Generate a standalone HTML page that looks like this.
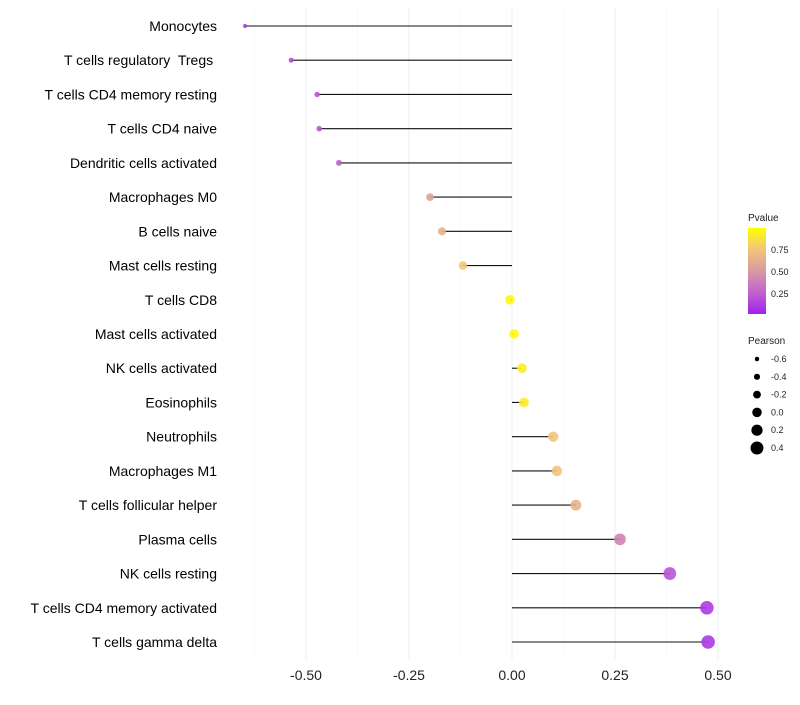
<!DOCTYPE html>
<html><head><meta charset="utf-8"><style>
body{margin:0;background:#fff;font-family:"Liberation Sans",sans-serif}
text{white-space:pre}
</style></head><body>
<svg id="chart" width="800" height="700" xmlns="http://www.w3.org/2000/svg" xml:space="preserve">
<defs><linearGradient id="pg" x1="0" y1="1" x2="0" y2="0">
<stop offset="0" stop-color="#a020f0"/><stop offset="0.25" stop-color="#c062d0"/><stop offset="0.5" stop-color="#d99aa0"/><stop offset="0.75" stop-color="#f2c47a"/><stop offset="1" stop-color="#ffff00"/></linearGradient></defs>
<g id="grid"></g><g id="marks"></g><g id="labels"></g>
<g font-size="9" fill="#222">
<text x="748" y="221" font-size="10">Pvalue</text>
<rect x="748" y="228" width="18" height="86" fill="url(#pg)"/>
<text x="771" y="253">0.75</text><text x="771" y="275">0.50</text><text x="771" y="297">0.25</text>
</g>
<g id="sizeleg" font-size="9" fill="#222">
<text x="748" y="344" font-size="10">Pearson</text>
</g>
</svg>
<script>
const categories=["Monocytes","T cells regulatory  Tregs ","T cells CD4 memory resting","T cells CD4 naive","Dendritic cells activated","Macrophages M0","B cells naive","Mast cells resting","T cells CD8","Mast cells activated","NK cells activated","Eosinophils","Neutrophils","Macrophages M1","T cells follicular helper","Plasma cells","NK cells resting","T cells CD4 memory activated","T cells gamma delta"];
const pearson=[-0.648,-0.536,-0.473,-0.468,-0.42,-0.199,-0.17,-0.119,-0.005,0.005,0.024,0.029,0.1,0.109,0.155,0.262,0.383,0.473,0.476];
const pvalue=[0.1,0.15,0.2,0.2,0.25,0.55,0.65,0.75,0.98,0.98,0.93,0.92,0.75,0.75,0.65,0.4,0.2,0.1,0.1];
const xTicks=[-0.5,-0.25,0,0.25,0.5];
const xTickLabels=["-0.50","-0.25","0.00","0.25","0.50"];
const sizeLegend=[-0.6,-0.4,-0.2,0.0,0.2,0.4];
const sizeLegendLabels=["-0.6","-0.4","-0.2","0.0","0.2","0.4"];
const NS="http://www.w3.org/2000/svg";
const X=v=>512+v*412;
const Y=i=>26+i*(642-26)/(categories.length-1);
const R=v=>2+(v+0.65)/1.13*4.8;
const stops=[[0,[160,32,240]],[0.25,[192,98,208]],[0.5,[217,154,160]],[0.75,[242,196,122]],[1,[255,255,0]]];
function col(p){for(let i=1;i<stops.length;i++){if(p<=stops[i][0]){const a=stops[i-1],b=stops[i],t=(p-a[0])/(b[0]-a[0]);return "rgb("+a[1].map((c,k)=>Math.round(c+(b[1][k]-c)*t)).join(",")+")";}}return "rgb(255,255,0)";}
function mk(t,a,p){const e=document.createElementNS(NS,t);for(const k in a)e.setAttribute(k,a[k]);p.appendChild(e);return e;}
const grid=document.getElementById('grid'),marks=document.getElementById('marks'),labels=document.getElementById('labels');
const minor=[-0.625,-0.375,-0.125,0.125,0.375];
minor.forEach(v=>{const l=mk('line',{x1:X(v),x2:X(v),y1:8,y2:660,stroke:'#f5f5f5','stroke-width':0.6},grid);

});
xTicks.forEach((v,i)=>{const l=mk('line',{x1:X(v),x2:X(v),y1:8,y2:660,stroke:'#eeeeee','stroke-width':1},grid);


const t=mk('text',{x:X(v),y:680,'text-anchor':'middle','font-size':14,fill:'#222'},labels);t.textContent=xTickLabels[i];

});
categories.forEach((c,i)=>{const y=Y(i);
const t=mk('text',{x:217,y:y+5,'text-anchor':'end','font-size':14,fill:'#000'},labels);t.textContent=c;


const s=mk('line',{x1:X(0),x2:X(pearson[i]),y1:y,y2:y,stroke:'#111','stroke-width':1.1},marks);


const d=mk('circle',{cx:X(pearson[i]),cy:y,r:R(pearson[i]),fill:col(pvalue[i]),'fill-opacity':0.9},marks);

});
const sl=document.getElementById('sizeleg');
sizeLegend.forEach((v,i)=>{const y=359+i*17.8;
const c=mk('circle',{cx:757,cy:y,r:R(v),fill:'#000'},sl);


const t=mk('text',{x:771,y:y+3},sl);t.textContent=sizeLegendLabels[i];

});
</script>
</body></html>
